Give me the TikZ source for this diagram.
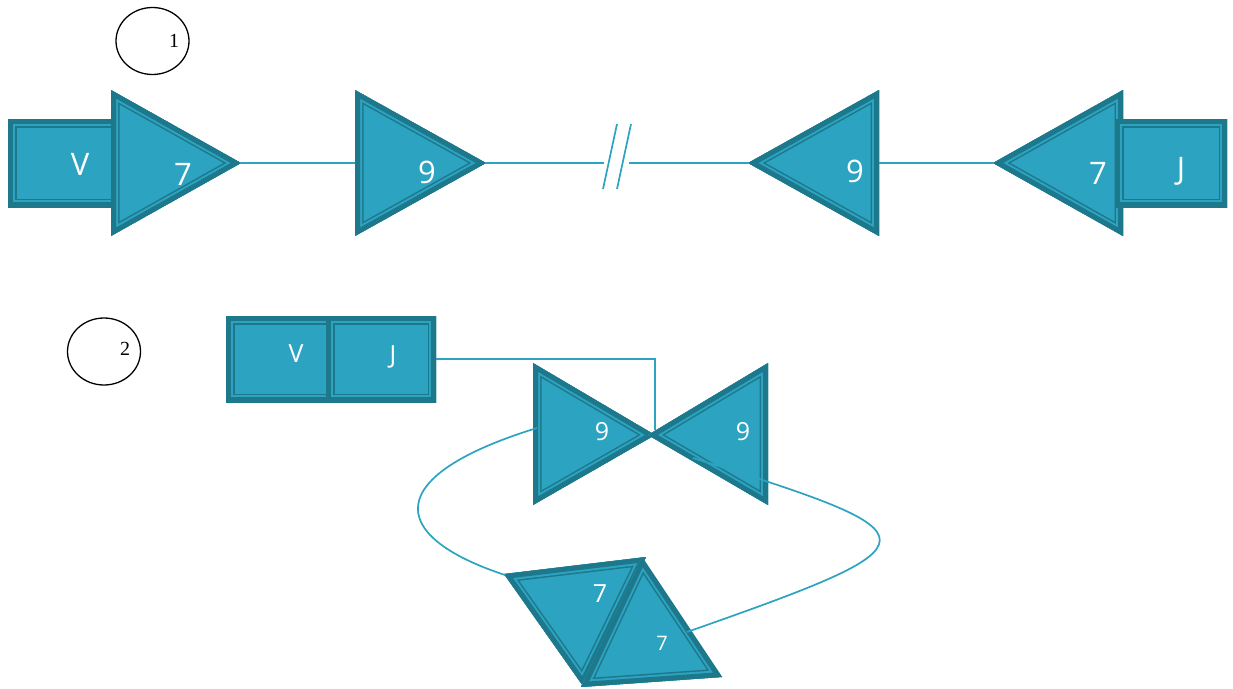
\documentclass[tikz,border=0pt]{standalone}
\usepackage{fontspec}
\usetikzlibrary{shapes.geometric}
\newfontfamily\lblfont{Open Sans}
\newfontfamily\numfont{Liberation Serif}
\definecolor{cl}{HTML}{2CA3C0}
\definecolor{cd}{HTML}{1E788C}
\newcommand\bandshape[1]{\begin{scope}\clip #1;\fill[cl] #1;\draw[cd,line width=17pt] #1;\draw[cl,line width=14pt] #1;\draw[cd,line width=10pt] #1;\end{scope}}
\tikzset{
  conn/.style={draw=cl, line width=1.7pt},
  lbig/.style={text=white, inner sep=0pt, anchor=base, font=\lblfont\fontsize{31}{31}\selectfont},
  lmid/.style={text=white, inner sep=0pt, anchor=base, font=\lblfont\fontsize{25}{25}\selectfont},
  lsmall/.style={text=white, inner sep=0pt, anchor=base, font=\lblfont\fontsize{20}{20}\selectfont},
  circ/.style={draw=black, ellipse, line width=1.3pt, minimum width=73pt, minimum height=67pt, inner sep=0pt},
  clbl/.style={inner sep=0pt, anchor=base, font=\numfont\fontsize{20}{20}\selectfont},
}
\begin{document}
\begin{tikzpicture}[x=1pt,y=-1pt]
\useasboundingbox (0,0) rectangle (1233,688);
% circles
\node[circ] (c1) at (152.5,41) {};
\node[clbl] (n1) at (174,47) {1};
\node[circ] (c2) at (104,351.5) {};
\node[clbl] (n2) at (125,355) {2};
% row 1 shapes
\bandshape{(8,119) rectangle (125,207)}
\bandshape{(111,90)--(111,236)--(241,163)--cycle}
\bandshape{(355,90)--(355,236)--(486,163)--cycle}
\bandshape{(879,90)--(879,236)--(748,163)--cycle}
\bandshape{(1123,90)--(1123,236)--(993,163)--cycle}
\bandshape{(1115,119) rectangle (1227,207)}
\node[lbig] (v1) at (80,175) {V};
\node[lbig] (s1) at (183,185) {7};
\node[lbig] (n91) at (427,183) {9};
\node[lbig] (n92) at (855,182) {9};
\node[lbig] (s2) at (1098,184) {7};
\node[lbig] (j1) at (1181,179) {J};
% row 1 connectors
\coordinate (a1) at (241,163);
\coordinate (a2) at (355,163);
\coordinate (a3) at (486,163);
\coordinate (b1) at (604,163);
\coordinate (b2) at (629,163);
\coordinate (a4) at (748,163);
\coordinate (a5) at (879,163);
\coordinate (a6) at (993,163);
\coordinate (k1) at (603,189);
\coordinate (k2) at (617,124);
\coordinate (k3) at (617,189);
\coordinate (k4) at (631,124);
\draw[conn] (a1) -- (a2);
\draw[conn] (a3) -- (b1);
\draw[conn] (b2) -- (a4);
\draw[conn] (k1) -- (k2);
\draw[conn] (k3) -- (k4);
\draw[conn] (a5) -- (a6);
% row 2 shapes
\bandshape{(226,316) rectangle (335,402)}
\bandshape{(326,316) rectangle (436,402)}
\bandshape{(533,363)--(533,505)--(655,435)--cycle}
\bandshape{(768,363)--(768,505)--(648,435)--cycle}
\bandshape{(504,574)--(646,557)--(583,686)--cycle}
\bandshape{(642,557)--(581,687)--(722,677)--cycle}
\node[lmid] (v2) at (296,362) {V};
\node[lmid] (j2) at (393,363) {J};
\node[lmid] (n93) at (602,440) {9};
\node[lmid] (n94) at (743,440) {9};
\node[lmid] (s3) at (600,602) {7};
\node[lsmall] (s4) at (662,650) {7};
% row 2 connectors
\coordinate (jr) at (436,359);
\coordinate (bc) at (655,359);
\coordinate (bt) at (655,430);
\coordinate (p1) at (537,428);
\coordinate (p2) at (505,575);
\coordinate (q1) at (693,458);
\coordinate (q2) at (687,632);
\draw[conn] (jr) -- (bc) -- (bt);
\draw[conn] (p1) .. controls (384,475) and (384,535) .. (p2);
\draw[conn] (q1) .. controls (943,536) and (943,542) .. (q2);
\end{tikzpicture}
\end{document}
